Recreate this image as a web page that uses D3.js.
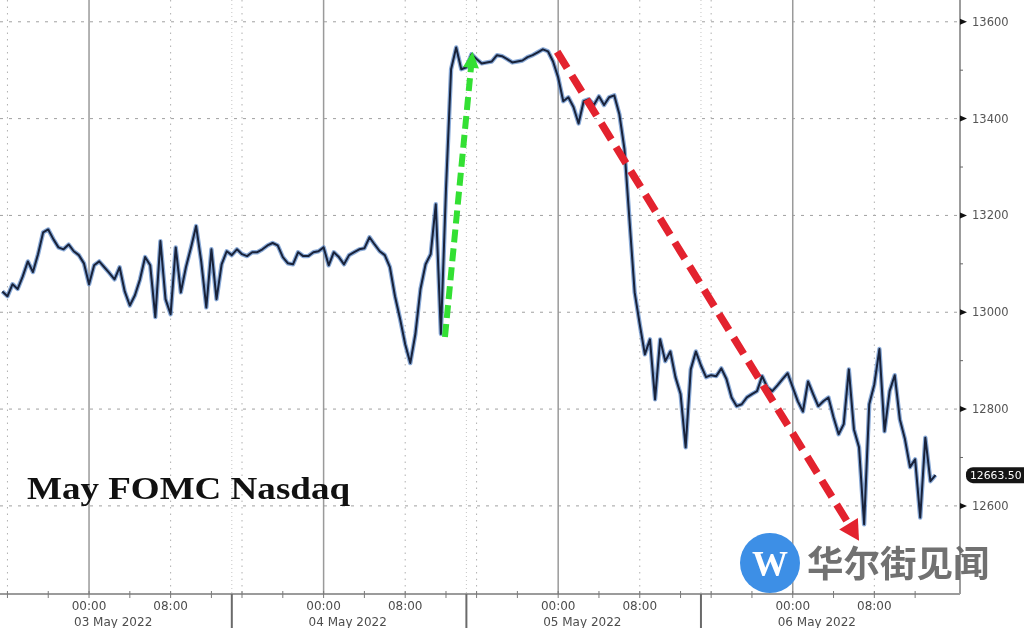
<!DOCTYPE html>
<head>
  <meta charset="utf-8">
  <script src="https://d3js.org/d3.v7.min.js"></script>
  <style>
    body { margin:0;position:fixed;top:0;right:0;bottom:0;left:0;background:#fff; }
  </style>
</head>

<body>
  <script>
    // x is in trading hours since 03 May 00:00 (the one hour daily break is left out)
    var startHour = -8.5;
    var stepHour = 0.5;

    var prices = [
      13043, 13033, 13058, 13048, 13074, 13105, 13083, 13120, 13165, 13171,
      13151, 13134, 13130, 13140, 13126, 13118, 13101, 13058, 13097, 13105,
      13093, 13081, 13068, 13093, 13043, 13014, 13035, 13068, 13114, 13097,
      12990, 13147, 13027, 12996, 13134, 13041, 13093, 13134, 13178, 13105,
      13010, 13130, 13027, 13099, 13126, 13118, 13130, 13120, 13116, 13124,
      13124, 13130, 13138, 13143, 13138, 13114, 13101, 13099, 13124, 13116,
      13116, 13124, 13126, 13134, 13097, 13124, 13114, 13099, 13118, 13124,
      13130, 13132, 13155, 13140, 13126, 13118, 13093, 13033, 12986, 12934,
      12895, 12955, 13048, 13099, 13120, 13223, 12955, 13254, 13502, 13547,
      13502, 13506, 13533, 13523, 13514, 13516, 13518, 13531, 13529, 13523,
      13516, 13518, 13520, 13527, 13531, 13537, 13543, 13539, 13518, 13485,
      13436, 13444, 13424, 13390, 13436, 13440, 13428, 13446, 13428, 13444,
      13448, 13409, 13337, 13188, 13041, 12975, 12913, 12944, 12820, 12944,
      12899, 12919, 12866, 12831, 12721, 12882, 12919, 12890, 12866, 12870,
      12868, 12884, 12862, 12824, 12806, 12810, 12824, 12831, 12837, 12868,
      12845, 12837, 12849, 12862, 12874, 12845, 12816, 12795, 12857, 12831,
      12806, 12816, 12824, 12783, 12748, 12769, 12882, 12758, 12721, 12562,
      12810, 12851, 12924, 12754, 12837, 12870, 12779, 12738, 12680, 12696,
      12576, 12741, 12651, 12663.5
    ];

    var priceTicks = [12600, 12800, 13000, 13200, 13400, 13600];
    var minorPriceTicks = [12500, 12700, 12900, 13100, 13300, 13500];

    var dayStarts = [0, 23, 46, 69];                 // 00:00
    var dayLabels = ['03 May 2022', '04 May 2022', '05 May 2022', '06 May 2022'];
    var morningTicks = [8, 31, 54, 77];              // 08:00
    var eveningTicks = [-8, 15, 38, 61];             // 16:00
    var sessionBreaks = [14, 37, 60];
    var hourTicks = [-8, -4, 0, 4, 8, 12, 15, 19, 23, 27, 31, 35, 38, 42, 46, 50, 54, 58, 61, 65, 69, 73, 77, 81];

    // arrows drawn on the chart: [hour, price] start and end
    var greenArrow = [[34.9, 12949], [37.6, 13538]];
    var redArrow = [[45.9, 13538], [75.5, 12528]];

    var width = 1024;
    var height = 628;
    var plotRight = 960;
    var plotBottom = 594;

    var svg = d3.select('body')
      .append('svg')
      .attr('width', width)
      .attr('height', height)
      .style('font-family', '"DejaVu Sans", sans-serif');

    var x = d3.scaleLinear().domain([-8.73, 85.4]).range([0, plotRight]);
    var y = d3.scaleLinear().domain([12418, 13645]).range([plotBottom, 0]);

    // grid
    var grid = svg.append('g');
    grid.selectAll('.hgrid')
      .data(priceTicks)
      .enter().append('line')
      .attr('x1', 0).attr('x2', plotRight)
      .attr('y1', d => y(d)).attr('y2', d => y(d))
      .style('stroke', '#a0a0a0')
      .style('stroke-width', 1)
      .style('stroke-dasharray', '3,6');

    grid.selectAll('.dgrid')
      .data(morningTicks.concat(eveningTicks))
      .enter().append('line')
      .attr('x1', d => x(d)).attr('x2', d => x(d))
      .attr('y1', 0).attr('y2', plotBottom)
      .style('stroke', '#b0b0b0')
      .style('stroke-width', 1)
      .style('stroke-dasharray', '1.5,5');

    grid.selectAll('.bgrid')
      .data(sessionBreaks)
      .enter().append('line')
      .attr('x1', d => x(d)).attr('x2', d => x(d))
      .attr('y1', 0).attr('y2', plotBottom)
      .style('stroke', '#c4c4c4')
      .style('stroke-width', 1)
      .style('stroke-dasharray', '1,3');

    grid.selectAll('.sgrid')
      .data(dayStarts)
      .enter().append('line')
      .attr('x1', d => x(d)).attr('x2', d => x(d))
      .attr('y1', 0).attr('y2', plotBottom)
      .style('stroke', '#9a9a9a')
      .style('stroke-width', 1.5);

    // price line
    var line = d3.line()
      .x((d, i) => x(startHour + i * stepHour))
      .y(d => y(d));

    svg.append('path')
      .datum(prices)
      .attr('d', line)
      .style('fill', 'none')
      .style('stroke', '#5886c6')
      .style('stroke-width', 4.4)
      .style('stroke-linejoin', 'round')
      .style('opacity', 0.7);

    svg.append('path')
      .datum(prices)
      .attr('d', line)
      .style('fill', 'none')
      .style('stroke', '#18223a')
      .style('stroke-width', 2)
      .style('stroke-linejoin', 'round');

    // dashed arrows
    function drawArrow(pts, color, lineWidth, dash, headLen, headWidth) {
      var x0 = x(pts[0][0]), y0 = y(pts[0][1]);
      var x1 = x(pts[1][0]), y1 = y(pts[1][1]);
      var len = Math.sqrt((x1 - x0) * (x1 - x0) + (y1 - y0) * (y1 - y0));
      var ux = (x1 - x0) / len, uy = (y1 - y0) / len;
      var bx = x1 - ux * headLen, by = y1 - uy * headLen;

      svg.append('line')
        .attr('x1', x0).attr('y1', y0)
        .attr('x2', bx + ux * 2).attr('y2', by + uy * 2)
        .style('stroke', color)
        .style('stroke-width', lineWidth)
        .style('stroke-dasharray', dash);

      svg.append('polygon')
        .attr('points', [
          [x1, y1],
          [bx - uy * headWidth / 2, by + ux * headWidth / 2],
          [bx + uy * headWidth / 2, by - ux * headWidth / 2]
        ].map(p => p.join(',')).join(' '))
        .style('fill', color);
    }

    drawArrow(greenArrow, '#33e033', 6, '13,6', 16, 16);
    drawArrow(redArrow, '#e3222e', 7.5, '19,9', 20, 22);

    // bottom axis
    var bottom = svg.append('g');
    bottom.append('line')
      .attr('x1', 0).attr('x2', plotRight)
      .attr('y1', plotBottom).attr('y2', plotBottom)
      .style('stroke', '#7a7a7a')
      .style('stroke-width', 1.5);

    bottom.selectAll('.htick')
      .data(hourTicks)
      .enter().append('line')
      .attr('x1', d => x(d)).attr('x2', d => x(d))
      .attr('y1', plotBottom - 3).attr('y2', plotBottom + 4)
      .style('stroke', '#7a7a7a')
      .style('stroke-width', 1);

    bottom.selectAll('.brk')
      .data(sessionBreaks)
      .enter().append('line')
      .attr('x1', d => x(d)).attr('x2', d => x(d))
      .attr('y1', plotBottom).attr('y2', height)
      .style('stroke', '#6a6a6a')
      .style('stroke-width', 2);

    bottom.selectAll('.tlabel')
      .data(dayStarts.map(d => [d, '00:00']).concat(morningTicks.map(d => [d, '08:00'])))
      .enter().append('text')
      .attr('x', d => x(d[0]))
      .attr('y', 610)
      .style('text-anchor', 'middle')
      .style('font-size', '12px')
      .style('fill', '#4d4d4d')
      .text(d => d[1]);

    bottom.selectAll('.dlabel')
      .data(dayStarts)
      .enter().append('text')
      .attr('x', d => x(d) - 15)
      .attr('y', 626)
      .style('font-size', '12px')
      .style('fill', '#4d4d4d')
      .text((d, i) => dayLabels[i]);

    // right axis
    var right = svg.append('g');
    right.append('line')
      .attr('x1', plotRight).attr('x2', plotRight)
      .attr('y1', 0).attr('y2', plotBottom)
      .style('stroke', '#9c9c9c')
      .style('stroke-width', 2);

    right.selectAll('.mtick')
      .data(minorPriceTicks)
      .enter().append('line')
      .attr('x1', plotRight).attr('x2', plotRight + 3)
      .attr('y1', d => y(d)).attr('y2', d => y(d))
      .style('stroke', '#666')
      .style('stroke-width', 1);

    right.selectAll('.ptick')
      .data(priceTicks)
      .enter().append('polygon')
      .attr('points', d => [[plotRight, y(d) - 3], [plotRight + 7, y(d)], [plotRight, y(d) + 3]].map(p => p.join(',')).join(' '))
      .style('fill', '#111');

    right.selectAll('.plabel')
      .data(priceTicks)
      .enter().append('text')
      .attr('x', 972)
      .attr('y', d => y(d) + 4)
      .style('font-size', '11.5px')
      .style('fill', '#555')
      .text(d => d);

    var last = prices[prices.length - 1];
    right.append('rect')
      .attr('x', 966).attr('y', y(last) - 8)
      .attr('width', 72).attr('height', 16)
      .attr('rx', 7)
      .style('fill', '#151515');
    right.append('text')
      .attr('x', 970)
      .attr('y', y(last) + 4)
      .style('font-size', '10.8px')
      .style('fill', '#fff')
      .text(last.toFixed(2));

    // title
    svg.append('text')
      .attr('x', 27)
      .attr('y', 499)
      .attr('textLength', 323)
      .attr('lengthAdjust', 'spacingAndGlyphs')
      .style('font-family', '"Liberation Serif", serif')
      .style('font-weight', 'bold')
      .style('font-size', '32px')
      .style('fill', '#111')
      .text('May FOMC Nasdaq');

    // watermark
    var mark = svg.append('g');
    mark.append('circle')
      .attr('cx', 770).attr('cy', 563).attr('r', 30)
      .style('fill', '#3d8fe6');
    mark.append('text')
      .attr('x', 770).attr('y', 576)
      .style('text-anchor', 'middle')
      .style('font-family', '"Liberation Serif", serif')
      .style('font-weight', 'bold')
      .style('font-size', '36px')
      .style('fill', '#fff')
      .text('W');
    mark.append('text')
      .attr('x', 807).attr('y', 577)
      .style('font-family', '"Noto Sans CJK SC", sans-serif')
      .style('font-weight', 'bold')
      .style('font-size', '36.5px')
      .style('fill', '#6a6a6a')
      .style('opacity', 0.95)
      .text('华尔街见闻');
  </script>
</body>
